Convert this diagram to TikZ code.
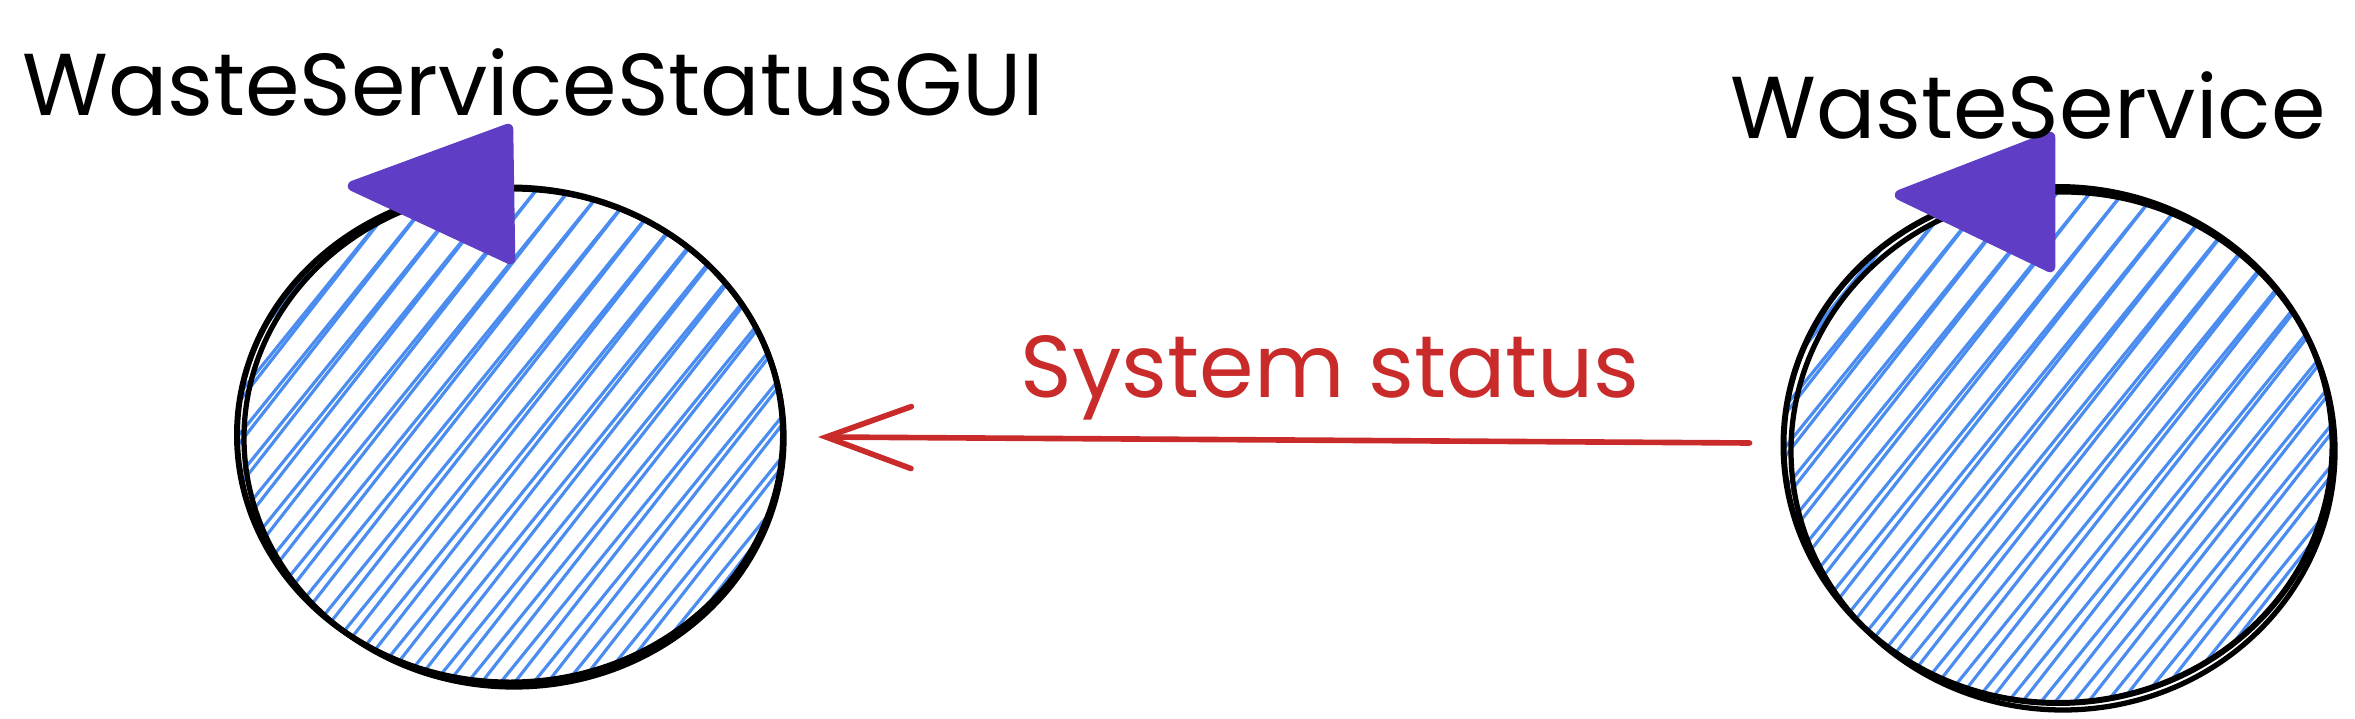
\documentclass[tikz,border=0pt]{standalone}
\usepackage{fontspec}
\setmainfont{Poppins}
\usetikzlibrary{shapes.geometric,arrows.meta,calc}
\usepackage{xcolor}
\definecolor{hatchblue}{HTML}{4A8CF0}
\definecolor{actorviolet}{HTML}{5F3DC4}
\definecolor{msgred}{HTML}{C92A2A}

\begin{document}
\begin{tikzpicture}[
    actor/.style={ellipse, draw, line width=1.7pt, inner sep=0pt,
        minimum width=5.46cm, minimum height=4.95cm,
        path picture={\foreach \k in {-20,...,20} {
            \draw[hatchblue, line width=0.9pt]
                ($(path picture bounding box.center)+(\k*0.33,0)+(232:4cm)$) -- ++(52:8cm);
            \draw[hatchblue, line width=0.9pt]
                ($(path picture bounding box.center)+(\k*0.33+0.08,0)+(233:4cm)$) -- ++(51:8cm);}}},
    flag/.style={fill=actorviolet, draw=actorviolet, line width=3pt, line join=round},
    title/.style={font=\fontsize{25}{30}\selectfont}
]
    \useasboundingbox (0,0) rectangle (23.55,7.19);
    % actors
    \node[actor] (gui) at (5.10,2.84) {};
    \node[actor, minimum width=5.49cm, minimum height=5.16cm] (svc) at (20.58,2.74) {};
    \draw[line width=1.5pt] ($(gui.center)+(0.04,-0.03)$) ellipse (2.70 and 2.49);
    \draw[line width=1.5pt] ($(svc.center)+(0.05,-0.06)$) ellipse (2.72 and 2.59);
    % flags
    \fill[flag] (3.53,5.33) -- (5.08,5.90) -- (5.10,4.60) -- cycle;
    \fill[flag] (19.00,5.24) -- (20.50,5.82) -- (20.50,4.52) -- cycle;
    % names
    \node[title] (guiname) at (5.33,6.37) {WasteServiceStatusGUI};
    \node[title] (svcname) at (20.28,6.14) {WasteService};
    % message
    \draw[msgred, line width=1.6pt, line cap=round,
          -{Straight Barb[length=8.5mm,width=6.2mm,line cap=round]},
          shorten <=0.31cm, shorten >=0.32cm] (svc) -- (gui)
        node[midway, above=0.05cm, xshift=0.47cm, text=msgred, title] (msg) {System status};
\end{tikzpicture}
\end{document}
